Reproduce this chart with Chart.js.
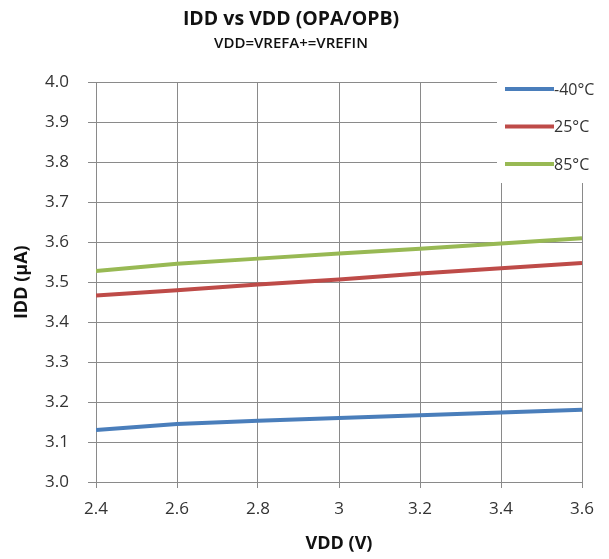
<!DOCTYPE html>
<html>
<head>
<meta charset="utf-8">
<title>IDD vs VDD (OPA/OPB)</title>
<script src="https://cdn.jsdelivr.net/npm/chart.js@4.4.1/dist/chart.umd.min.js"></script>
<style>
  html, body { margin: 0; padding: 0; background: #fff; }
  #wrap { width: 609px; height: 559px; position: relative; }
</style>
</head>
<body>
<div id="wrap"><canvas id="iddChart"></canvas></div>
<script>
// valori
const vdd = [2.4, 2.6, 2.8, 3.0, 3.2, 3.4, 3.6];
const iddMinus40 = [3.130, 3.145, 3.153, 3.160, 3.167, 3.174, 3.181];
const idd25 = [3.467, 3.480, 3.494, 3.507, 3.522, 3.535, 3.548];
const idd85 = [3.528, 3.546, 3.559, 3.572, 3.584, 3.597, 3.610];

const seriesLabels = ['-40°C', '25°C', '85°C'];
const xTickLabels = ['2.4', '2.6', '2.8', '3', '3.2', '3.4', '3.6'];
const yTickLabels = ['3.0', '3.1', '3.2', '3.3', '3.4', '3.5', '3.6', '3.7', '3.8', '3.9', '4.0'];

const gridColor = '#8a8a8a';
const fontFamily = '"Open Sans", "Liberation Sans", sans-serif';

function toPoints(ys) {
    return vdd.map(function(x, i) { return { x: x, y: ys[i] }; });
}

// legenda disegnata sopra l'area del grafico, come in Excel
const overlayLegend = {
    id: 'overlayLegend',
    afterDraw: function(chart) {
        const c = chart.ctx;
        c.save();
        c.fillStyle = '#ffffff';
        c.fillRect(497, 64, 112, 119);
        c.font = '16px ' + fontFamily;
        c.textBaseline = 'middle';
        c.textAlign = 'left';
        chart.data.datasets.forEach(function(ds, i) {
            const y = 89 + i * 37.5;
            c.strokeStyle = ds.borderColor;
            c.lineWidth = 4;
            c.beginPath();
            c.moveTo(505, y);
            c.lineTo(554, y);
            c.stroke();
            c.fillStyle = '#333333';
            c.fillText(ds.label, 554, y + 1);
        });
        c.restore();
    }
};

const ctx = document.getElementById('iddChart').getContext('2d');
const iddChart = new Chart(ctx, {
    type: 'line',
    data: {
        datasets: [{
            label: seriesLabels[0],
            data: toPoints(iddMinus40),
            borderColor: '#4a7ebb',
            borderWidth: 4
        }, {
            label: seriesLabels[1],
            data: toPoints(idd25),
            borderColor: '#be4b48',
            borderWidth: 4
        }, {
            label: seriesLabels[2],
            data: toPoints(idd85),
            borderColor: '#98b954',
            borderWidth: 4
        }]
    },
    options: {
        responsive: true,
        maintainAspectRatio: false,
        animation: false,
        layout: { padding: { left: 0, right: 27, top: 0, bottom: 0 } },
        elements: {
            point: { radius: 0 },
            line: { tension: 0 }
        },
        plugins: {
            legend: { display: false },
            tooltip: { enabled: false },
            title: {
                display: true,
                text: 'IDD vs VDD (OPA/OPB)',
                color: '#111',
                font: { family: fontFamily, size: 19.5, weight: 'bold' },
                padding: { top: 8, bottom: 3 }
            },
            subtitle: {
                display: true,
                text: 'VDD=VREFA+=VREFIN',
                color: '#111',
                font: { family: fontFamily, size: 15, weight: '600' },
                padding: { top: 0, bottom: 30 }
            }
        },
        scales: {
            x: {
                type: 'linear',
                min: 2.4,
                max: 3.6,
                afterFit: function(scale) { scale.height = 77; },
                ticks: {
                    stepSize: 0.2,
                    color: '#333',
                    padding: 11,
                    maxRotation: 0,
                    font: { family: fontFamily, size: 17 },
                    callback: function(value, index) { return xTickLabels[index]; }
                },
                grid: { color: gridColor, lineWidth: 1, tickLength: 6 },
                border: { color: gridColor },
                title: {
                    display: true,
                    text: 'VDD (V)',
                    color: '#111',
                    font: { family: fontFamily, size: 18, weight: 'bold' },
                    padding: { top: 0, bottom: 4 }
                }
            },
            y: {
                min: 3.0,
                max: 4.0,
                afterFit: function(scale) { scale.width = 96; },
                ticks: {
                    stepSize: 0.1,
                    color: '#333',
                    padding: 19,
                    font: { family: fontFamily, size: 17 },
                    callback: function(value, index) { return yTickLabels[index]; }
                },
                grid: { color: gridColor, lineWidth: 1, tickLength: 8 },
                border: { color: gridColor },
                title: {
                    display: true,
                    text: 'IDD (µA)',
                    color: '#111',
                    font: { family: fontFamily, size: 18, weight: 'bold' },
                    padding: { top: 11, bottom: 0 }
                }
            }
        }
    },
    plugins: [overlayLegend]
});
</script>
</body>
</html>
